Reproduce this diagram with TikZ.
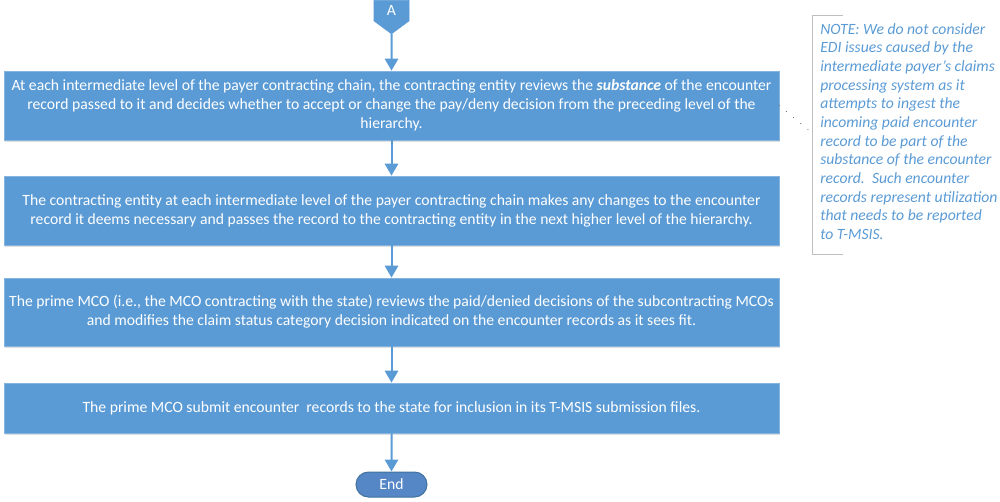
\documentclass[tikz,border=0pt]{standalone}
\usepackage{fontspec}
\setmainfont{Carlito}
\usetikzlibrary{arrows.meta,shapes.symbols,shapes.misc,shadows}
\definecolor{azul}{HTML}{5B9BD5}
\definecolor{azulfin}{HTML}{5586C6}
\definecolor{bordefin}{HTML}{41719C}
\definecolor{gris}{HTML}{BFBFBF}
\definecolor{textonota}{HTML}{5B9BD5}
\begin{document}
\begin{tikzpicture}[x=0.75pt,y=-0.75pt,
    paso/.style={fill=azul, draw=azul!75!white, line width=0.5pt, text=white, inner sep=0pt,
        minimum width=581.25pt, align=center, font=\fontsize{11.75}{14.4}\selectfont,
        drop shadow={opacity=0.25, shadow xshift=0.6pt, shadow yshift=-1.2pt}},
    flecha/.style={draw=azul, line width=1.5pt, -{Triangle[width=10pt,length=9pt]}}]
    \useasboundingbox (0,0) rectangle (1000,501);
    % Conector de entrada
    \node[signal, signal to=south, signal pointer angle=107, fill=azul, draw=azul, text=white,
        minimum width=26.25pt, minimum height=18pt, inner sep=0pt, anchor=north,
        font=\fontsize{11.75}{12}\selectfont] (A) at (391.5,0) {A};
    % Pasos del proceso
    \node[paso, minimum height=51.75pt] (r1) at (391.5,105.5) {At each intermediate level of the payer contracting chain, the contracting entity reviews the \textbf{\textit{substance}} of the encounter\\ record passed to it and decides whether to accept or change the pay/deny decision from the preceding level of the\\ hierarchy.};
    \node[paso, minimum height=51.75pt] (r2) at (391.5,210.5) {The contracting entity at each intermediate level of the payer contracting chain makes any changes to the encounter\\ record it deems necessary and passes the record to the contracting entity in the next higher level of the hierarchy.};
    \node[paso, minimum height=51pt] (r3) at (391.5,312) {The prime MCO (i.e., the MCO contracting with the state) reviews the paid/denied decisions of the subcontracting MCOs\\ and modifies the claim status category decision indicated on the encounter records as it sees fit.};
    \node[paso, minimum height=37.5pt] (r4) at (391.5,408) {The prime MCO submit encounter\ \ records to the state for inclusion in its T-MSIS submission files.};
    % Fin
    \node[rounded rectangle, fill=azulfin, draw=bordefin, line width=0.75pt, text=white,
        minimum width=53.25pt, minimum height=18.75pt, inner sep=0pt,
        font=\fontsize{11.75}{12}\selectfont] (fin) at (391.5,484.5) {End};
    % Flechas
    \draw[flecha] (A) -- (r1);
    \draw[flecha] (r1) -- (r2);
    \draw[flecha] (r2) -- (r3);
    \draw[flecha] (r3) -- (r4);
    \draw[flecha] (r4) -- (fin);
    % Nota
    \node[anchor=north west, inner sep=0pt, align=left, text=textonota,
        font=\fontsize{11.75}{14}\selectfont\itshape] (nota) at (820,23) {NOTE: We do not consider\\ EDI issues caused by the\\ intermediate payer’s claims\\ processing system as it\\ attempts to ingest the\\ incoming paid encounter\\ record to be part of the\\ substance of the encounter\\ record.\ \ Such encounter\\ records represent utilization\\ that needs to be reported\\ to T-MSIS.};
    \draw[gris, line width=0.75pt] (843,15) -| (812,254) -- (843,254);
    \coordinate (ce) at (812,133);
    \draw[gris!60!black, line width=0.9pt, line cap=round, dash pattern=on 0pt off 7pt] (r1.east) -- (ce);
\end{tikzpicture}
\end{document}
